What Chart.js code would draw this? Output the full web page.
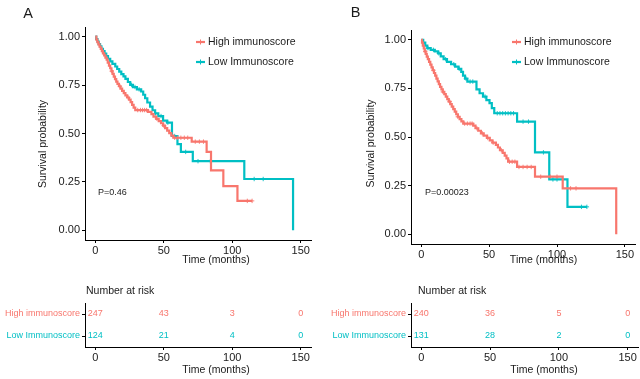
<!DOCTYPE html>
<html><head><meta charset="utf-8">
<script src="https://cdn.jsdelivr.net/npm/chart.js@4.4.1/dist/chart.umd.min.js"></script>
<style>
html,body{margin:0;padding:0;background:#fff;width:640px;height:379px;overflow:hidden;position:relative}
canvas{position:absolute;display:block}
</style></head><body>
<canvas id="kmA" width="320" height="268" style="left:0;top:0"></canvas>
<canvas id="kmB" width="320" height="268" style="left:320px;top:0"></canvas>
<canvas id="riskA" width="320" height="111" style="left:0;top:268px"></canvas>
<canvas id="riskB" width="320" height="111" style="left:320px;top:268px"></canvas>
<script>
// ---------------- data ----------------
const groupLabels = ['High immunoscore', 'Low Immunoscore'];
const xTicks = [0, 50, 100, 150];
const yTicks = [0, 0.25, 0.5, 0.75, 1];
const riskTimes = [0, 50, 100, 150];

// Panel A
const pValueA = 'P=0.46';
const timeA_high = [0,0.8,1.5,2.3,3.1,4,4.8,5.6,6.5,7.4,8.3,9.1,10,10.9,11.8,12.6,13.5,14.4,15.3,16.2,17.3,18.4,19.6,20.8,22,23.3,24.6,25.8,26.9,28,29.2,38.5,41,42.5,44.5,46.3,48,49.5,51,52.5,54,55.5,57,70.4,81.3,84.5,93.5,103.8,114.5];
const survA_high = [1,0.985,0.972,0.96,0.948,0.937,0.925,0.914,0.903,0.892,0.881,0.866,0.851,0.837,0.822,0.808,0.794,0.781,0.768,0.756,0.744,0.732,0.72,0.708,0.697,0.686,0.675,0.662,0.648,0.634,0.621,0.612,0.6,0.587,0.576,0.564,0.553,0.541,0.528,0.515,0.502,0.489,0.478,0.458,0.405,0.31,0.228,0.152,0.152];
const censorA_high = [12,18,24,31,33,34.5,36,37.5,45,50,58,60,62.5,65,67.5,73,76,79,111,114.5];
const timeA_low = [0,0.7,1.6,2.5,3.5,4.5,5.6,6.8,8,9.3,10.9,12.5,14.6,16,17.5,19,20.6,22,23.8,25.5,27.5,30.4,33.5,35,36.4,38,40,41.8,43.7,46,49.5,52.5,56,60,62.5,71.2,108.8,144.4];
const survA_low = [1,0.988,0.975,0.962,0.95,0.937,0.925,0.913,0.9,0.886,0.872,0.86,0.846,0.833,0.82,0.807,0.795,0.782,0.766,0.751,0.74,0.728,0.717,0.7,0.682,0.66,0.639,0.62,0.604,0.59,0.567,0.556,0.487,0.445,0.405,0.357,0.265,0];
const censorA_low = [26.5,29,32,44,48,53,58,66,75,84,116,122.6];
const riskA_high = [247, 43, 3, 0];
const riskA_low = [124, 21, 4, 0];

// Panel B
const pValueB = 'P=0.00023';
const timeB_high = [0,0.6,1.2,1.9,2.6,3.3,4.1,4.9,5.8,6.7,7.6,8.5,9.4,10.3,11.2,12.1,13,13.9,14.9,15.9,17,18.1,19.2,20.3,21.4,22.5,23.6,24.7,25.8,27,28.3,29.6,31,38.3,40,42,44,46,48.5,50.5,52.5,55,56.5,58,60,61.5,62.8,64,70.6,83.8,104.2,143.6];
const survB_high = [1,0.985,0.97,0.955,0.94,0.927,0.913,0.9,0.886,0.872,0.858,0.843,0.829,0.815,0.8,0.786,0.772,0.758,0.745,0.732,0.72,0.708,0.695,0.682,0.669,0.656,0.643,0.63,0.617,0.604,0.592,0.58,0.569,0.558,0.545,0.532,0.519,0.507,0.495,0.483,0.471,0.46,0.446,0.432,0.418,0.404,0.39,0.373,0.346,0.296,0.236,0];
const censorB_high = [3,9,16,21,27,32,34,36,37.5,41,45,49,53,59,65,67,69,72,75,78,81,88,95,100,110,114];
const timeB_low = [0,1.5,3,4.5,7,10,12.5,14.4,16.5,19,22,25,27.5,29.5,30.8,32.3,34,40.7,43,45.5,48,50.3,52,53.8,70.6,83.8,94.3,107.7,122];
const survB_low = [1,0.985,0.97,0.957,0.948,0.94,0.93,0.914,0.9,0.886,0.874,0.862,0.85,0.835,0.815,0.8,0.785,0.745,0.725,0.708,0.69,0.674,0.648,0.622,0.579,0.421,0.282,0.141,0.141];
const censorB_low = [5,9,13,18,24,28,33,36,38,47,56,58,60,62,64,66,68,75,79,90,97,100,118,122];
const riskB_high = [240, 36, 5, 0];
const riskB_low = [131, 28, 2, 0];

// ---------------- style ----------------
const COLORS = ['#F8766D', '#00BFC4'];
const FONT = "'Liberation Sans', Arial, Helvetica, sans-serif";
const TXT = '#1a1a1a';
Chart.defaults.font.family = FONT;
Chart.defaults.color = TXT;

function survAt(times, surv, t) {
  let s = surv[0];
  for (let i = 0; i < times.length; i++) { if (times[i] <= t) s = surv[i]; else break; }
  return s;
}

const textPlugin = {
  id: 'texts',
  afterDraw(chart, args, opts) {
    const ctx = chart.ctx;
    (opts.items || []).forEach(it => {
      ctx.save();
      ctx.font = (it.weight || 'normal') + ' ' + it.size + 'px ' + FONT;
      ctx.fillStyle = it.color || TXT;
      ctx.textAlign = it.align || 'center';
      ctx.textBaseline = 'middle';
      ctx.translate(it.x, it.y);
      if (it.rotate) ctx.rotate(it.rotate);
      ctx.fillText(it.text, 0, 0);
      ctx.restore();
    });
  }
};

const kmLegendPlugin = {
  id: 'kmLegend',
  afterDraw(chart, args, opts) {
    if (!opts || opts.x === undefined) return;
    const ctx = chart.ctx;
    const curves = chart.data.datasets.filter(d => d.kmCurve);
    curves.forEach((d, i) => {
      const y = opts.y + i * opts.gap;
      ctx.save();
      ctx.strokeStyle = d.borderColor;
      ctx.lineWidth = 2.2;
      ctx.beginPath(); ctx.moveTo(opts.x, y); ctx.lineTo(opts.x + opts.keyW, y); ctx.stroke();
      ctx.lineWidth = 1;
      const cx = opts.x + opts.keyW / 2;
      ctx.beginPath(); ctx.moveTo(cx, y - 2.5); ctx.lineTo(cx, y + 2.5); ctx.stroke();
      ctx.font = '10.5px ' + FONT;
      ctx.fillStyle = TXT;
      ctx.textAlign = 'left';
      ctx.textBaseline = 'middle';
      ctx.fillText(d.label, opts.x + opts.keyW + opts.textGap, y);
      ctx.restore();
    });
  }
};

const riskNumbersPlugin = {
  id: 'riskNumbers',
  afterDatasetsDraw(chart) {
    const ctx = chart.ctx;
    chart.data.datasets.forEach((ds, i) => {
      const meta = chart.getDatasetMeta(i);
      meta.data.forEach((el, k) => {
        ctx.save();
        ctx.font = '9px ' + FONT;
        ctx.fillStyle = ds.riskColor;
        ctx.textAlign = 'center';
        ctx.textBaseline = 'middle';
        ctx.fillText(String(ds.data[k].n), el.x, el.y);
        ctx.restore();
      });
    });
  }
};

function axisCommon() {
  return {
    grid: { display: true, drawOnChartArea: false, drawTicks: true, tickLength: 3, color: '#000', lineWidth: 1 },
    border: { display: true, color: '#000', width: 1 }
  };
}

function kmChart(id, groups, area, legendOpts, texts) {
  const canvas = document.getElementById(id);
  const W = canvas.width, H = canvas.height;
  const datasets = [];
  groups.forEach((g, i) => {
    datasets.push({
      type: 'line', label: g.label, kmCurve: true,
      data: g.times.map((t, k) => ({ x: t, y: g.surv[k] })),
      borderColor: COLORS[i], backgroundColor: COLORS[i], borderWidth: 2.2,
      stepped: 'before', pointRadius: 0, fill: false, tension: 0,
      borderCapStyle: 'butt', borderJoinStyle: 'miter'
    });
    datasets.push({
      type: 'scatter', label: g.label + ' (censored)',
      data: g.censor.map(t => ({ x: t, y: survAt(g.times, g.surv, t) })),
      pointStyle: 'cross', pointRadius: 2.2, borderColor: COLORS[i], borderWidth: 0.9,
      showLine: false
    });
  });
  return new Chart(canvas, {
    type: 'line',
    data: { datasets },
    options: {
      responsive: false, animation: false, events: [],
      layout: { padding: { top: area.top, right: W - area.right, left: 0, bottom: 0 } },
      scales: {
        x: Object.assign(axisCommon(), {
          type: 'linear', min: -7.5, max: 157.5,
          afterBuildTicks: a => { a.ticks = xTicks.map(v => ({ value: v })); },
          afterFit: s => { s.height = H - area.bottom; },
          ticks: { color: TXT, font: { size: 11 }, padding: 1, maxRotation: 0, autoSkip: false }
        }),
        y: Object.assign(axisCommon(), {
          type: 'linear', min: -0.05, max: 1.05,
          afterBuildTicks: a => { a.ticks = yTicks.map(v => ({ value: v })); },
          afterFit: s => { s.width = area.left; },
          ticks: { color: TXT, font: { size: 11 }, padding: 2, callback: v => Number(v).toFixed(2), autoSkip: false }
        })
      },
      plugins: {
        legend: { display: false }, tooltip: { enabled: false },
        kmLegend: legendOpts,
        texts: { items: texts }
      }
    },
    plugins: [kmLegendPlugin, textPlugin]
  });
}

function riskChart(id, groups, area, texts) {
  const canvas = document.getElementById(id);
  const W = canvas.width, H = canvas.height;
  const datasets = groups.map((g, i) => ({
    type: 'scatter', label: g.label, riskColor: COLORS[i],
    data: riskTimes.map((t, k) => ({ x: t, y: g.label, n: g.risk[k] })),
    pointRadius: 0, showLine: false
  }));
  return new Chart(canvas, {
    type: 'scatter',
    data: { datasets },
    options: {
      responsive: false, animation: false, events: [],
      layout: { padding: { top: area.top, right: W - area.right, left: 0, bottom: 0 } },
      scales: {
        x: Object.assign(axisCommon(), {
          type: 'linear', min: -7.5, max: 157.5,
          afterBuildTicks: a => { a.ticks = xTicks.map(v => ({ value: v })); },
          afterFit: s => { s.height = H - area.bottom; },
          ticks: { color: TXT, font: { size: 11 }, padding: 1, maxRotation: 0, autoSkip: false }
        }),
        y: Object.assign(axisCommon(), {
          type: 'category', labels: groupLabels, offset: true,
          afterFit: s => { s.width = area.left; },
          ticks: { color: c => COLORS[c.index], font: { size: 9 }, padding: 2, autoSkip: false }
        })
      },
      plugins: { legend: { display: false }, tooltip: { enabled: false }, texts: { items: texts } }
    },
    plugins: [riskNumbersPlugin, textPlugin]
  });
}

kmChart('kmA', [
  { label: groupLabels[0], times: timeA_high, surv: survA_high, censor: censorA_high },
  { label: groupLabels[1], times: timeA_low, surv: survA_low, censor: censorA_low }
], { left: 85, right: 311, top: 27, bottom: 240 },
{ x: 196, y: 42, gap: 20, keyW: 9, textGap: 3 },
[
  { text: 'A', x: 28, y: 14, size: 14.5 },
  { text: 'Survival probability', x: 43, y: 144, size: 10.5, rotate: -Math.PI / 2 },
  { text: 'Time (months)', x: 216, y: 260, size: 10.5 },
  { text: pValueA, x: 98, y: 193, size: 9, align: 'left' }
]);

kmChart('kmB', [
  { label: groupLabels[0], times: timeB_high, surv: survB_high, censor: censorB_high },
  { label: groupLabels[1], times: timeB_low, surv: survB_low, censor: censorB_low }
], { left: 91, right: 319, top: 30, bottom: 244 },
{ x: 192, y: 42, gap: 20, keyW: 9, textGap: 3 },
[
  { text: 'B', x: 35.5, y: 13, size: 14.5 },
  { text: 'Survival probability', x: 51, y: 143.5, size: 10.5, rotate: -Math.PI / 2 },
  { text: 'Time (months)', x: 223.5, y: 260, size: 10.5 },
  { text: pValueB, x: 105, y: 193, size: 9, align: 'left' }
]);

riskChart('riskA', [
  { label: groupLabels[0], risk: riskA_high },
  { label: groupLabels[1], risk: riskA_low }
], { left: 85, right: 311, top: 35, bottom: 79 },
[
  { text: 'Number at risk', x: 86, y: 23, size: 10.5, align: 'left' },
  { text: 'Time (months)', x: 216, y: 102, size: 10.5 }
]);

riskChart('riskB', [
  { label: groupLabels[0], risk: riskB_high },
  { label: groupLabels[1], risk: riskB_low }
], { left: 91, right: 318, top: 35, bottom: 79 },
[
  { text: 'Number at risk', x: 98, y: 23, size: 10.5, align: 'left' },
  { text: 'Time (months)', x: 224, y: 102, size: 10.5 }
]);
</script>
</body></html>
